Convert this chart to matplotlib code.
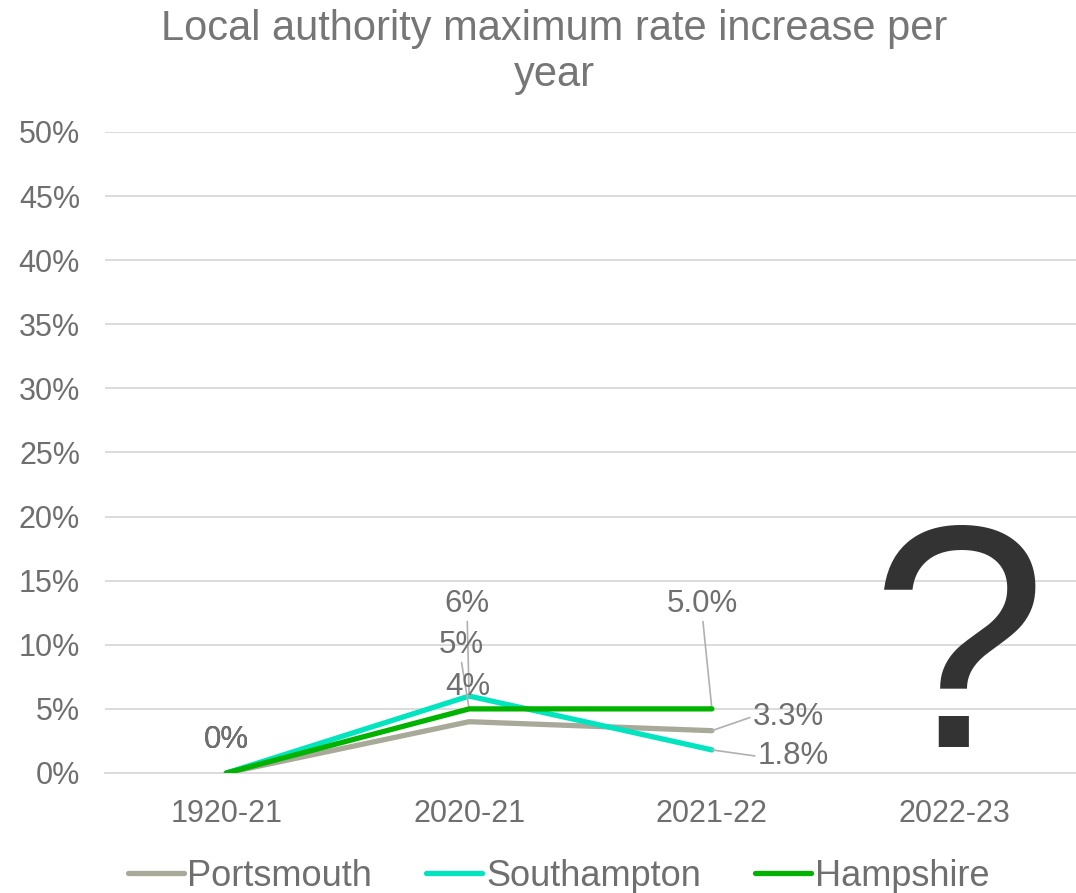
import matplotlib as mpl
mpl.use('Agg')
import matplotlib.pyplot as plt

plt.rcParams['font.family'] = ['Liberation Sans', 'DejaVu Sans']

# data
years = ['1920-21', '2020-21', '2021-22', '2022-23']
portsmouth = [0, 4, 3.3]
southampton = [0, 6, 1.8]
hampshire = [0, 5, 5.0]
yticks = list(range(0, 55, 5))

grey_txt = '#6f6f6f'

fig = plt.figure(figsize=(10.76, 8.93), dpi=100)
ax = fig.add_axes([0.0976, 0.1344, 0.9024, 0.7178])

x = list(range(len(years)))
ax.plot(x[:3], portsmouth, color='#A9A99A', lw=3.8, label='Portsmouth', solid_capstyle='round', zorder=3)
ax.plot(x[:3], southampton, color='#00E5C0', lw=3.8, label='Southampton', solid_capstyle='round', zorder=3)
ax.plot(x[:3], hampshire, color='#00B300', lw=3.8, label='Hampshire', solid_capstyle='round', zorder=4)

ax.set_xlim(-0.5, 3.5)
ax.set_ylim(0, 50)
ax.set_yticks(yticks)
ax.set_yticklabels([f'{t}%' for t in yticks])
ax.set_xticks(x)
ax.set_xticklabels(years)
ax.tick_params(length=0, labelsize=22, colors=grey_txt)
ax.tick_params(axis='x', pad=19)
ax.tick_params(axis='y', pad=18)
ax.grid(axis='y', color='#D9D9D9', lw=1.3)
ax.set_axisbelow(True)
for s in ['top', 'right', 'left']:
    ax.spines[s].set_visible(False)
ax.spines['bottom'].set_color('#D9D9D9')
ax.spines['bottom'].set_linewidth(1.3)

# data labels
lab = dict(fontsize=22.5, color=grey_txt, ha='center', va='center')
for series in (portsmouth, southampton, hampshire):
    ax.text(0, series[0] + 2.6, f'{series[0]:.0f}%', **lab)
lead = dict(arrowstyle='-', color='#B0B0B0', lw=1.2, shrinkA=0, shrinkB=0)
ax.annotate(f'{southampton[1]:.0f}%', (1, southampton[1]), xytext=(0.992, 13.2),
            arrowprops=dict(relpos=(0.5, 0), **lead), **lab)
ax.annotate(f'{hampshire[1]:.0f}%', (1, hampshire[1]), xytext=(0.967, 10.0),
            arrowprops=dict(relpos=(0.5, 0), **lead), **lab)
ax.text(0.996, 6.7, f'{portsmouth[1]:.0f}%', **lab)
ax.annotate(f'{hampshire[2]:.1f}%', (2, hampshire[2]), xytext=(1.962, 13.2),
            arrowprops=dict(relpos=(0.5, 0), **lead), **lab)
ax.annotate(f'{portsmouth[2]:.1f}%', (2, portsmouth[2]), xytext=(2.315, 4.4),
            arrowprops=dict(relpos=(0, 0.5), **lead), **lab)
ax.annotate(f'{southampton[2]:.1f}%', (2, southampton[2]), xytext=(2.335, 1.3),
            arrowprops=dict(relpos=(0, 0.5), **lead), **lab)

# big question mark for the missing year
ax.text(3.02, 2.0, '?', fontsize=228, color='#333333', ha='center', va='baseline')

fig.suptitle('Local authority maximum rate increase per\nyear', fontsize=30,
             color='#767676', x=0.515, y=0.99, linespacing=1.2)

ax.legend(loc='center', bbox_to_anchor=(0.467, -0.161), ncol=3, frameon=False,
          fontsize=26, labelcolor=grey_txt, handlelength=1.55, handletextpad=0.1,
          columnspacing=1.5)

fig.savefig('out.png', dpi=100)
plt.close(fig)
